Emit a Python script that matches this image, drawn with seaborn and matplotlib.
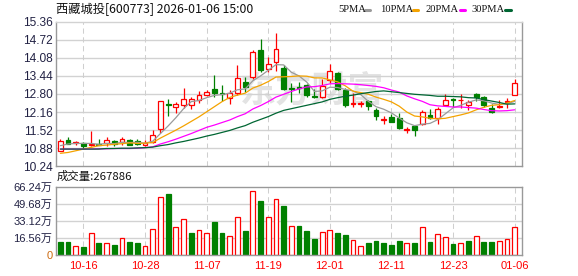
import numpy as np
import pandas as pd
import matplotlib
matplotlib.use("Agg")
import matplotlib.pyplot as plt
import seaborn as sns

# ---------------- data ----------------
title = "西藏城投[600773] 2026-01-06 15:00"
vol_label = "成交量:267886"
opens = [10.77, 11.17, 11.07, 11.05, 10.99, 11.03, 11.07, 11.13, 11.09, 11.16,
         11.12, 10.98, 11.10, 11.55, 12.43, 12.33, 12.42, 12.40, 12.59, 12.78,
         12.96, 12.83, 12.66, 12.85, 13.23, 13.40, 14.36, 13.67, 13.93, 13.73,
         13.00, 13.04, 13.12, 12.73, 12.68, 13.30, 13.54, 12.93, 12.45, 12.46,
         12.55, 12.25, 11.89, 11.99, 11.95, 11.53, 11.66, 11.75, 12.05, 11.96,
         12.40, 12.62, 12.58, 12.41, 12.81, 12.68, 12.31, 12.35, 12.53, 12.76]
highs = [11.22, 11.28, 11.15, 11.10, 11.49, 11.22, 11.28, 11.17, 11.27, 11.20,
         11.19, 11.17, 11.51, 12.56, 12.63, 12.52, 13.01, 12.68, 12.91, 12.93,
         13.46, 13.13, 12.95, 13.81, 13.40, 14.35, 14.76, 14.11, 14.96, 13.82,
         13.20, 13.23, 13.16, 12.99, 13.33, 13.86, 13.57, 13.02, 12.82, 12.55,
         12.60, 12.30, 12.02, 12.10, 12.12, 11.63, 11.65, 12.25, 12.26, 12.34,
         12.80, 12.65, 12.80, 12.60, 12.84, 12.72, 12.45, 12.58, 12.67, 13.34]
lows = [10.77, 11.02, 11.01, 10.87, 10.97, 10.98, 10.96, 10.96, 10.98, 10.98,
        10.98, 10.95, 11.08, 11.43, 12.01, 12.14, 12.30, 12.28, 12.49, 12.73,
        12.68, 12.54, 12.46, 12.78, 12.87, 13.34, 13.58, 13.58, 13.60, 12.93,
        12.52, 12.84, 12.70, 12.67, 12.66, 13.20, 12.93, 12.33, 12.33, 12.33,
        12.25, 11.88, 11.75, 11.81, 11.55, 11.43, 11.31, 11.71, 11.92, 11.75,
        12.40, 12.34, 12.32, 12.22, 12.55, 12.34, 12.14, 12.30, 12.30, 12.76]
closes = [11.15, 11.03, 11.10, 10.95, 11.03, 11.00, 11.17, 11.04, 11.19, 11.01,
          11.02, 11.05, 11.36, 12.54, 12.40, 12.45, 12.63, 12.61, 12.78, 12.87,
          12.85, 12.80, 12.85, 13.37, 13.05, 14.29, 13.64, 13.85, 14.38, 12.99,
          12.97, 13.01, 12.76, 12.71, 13.10, 13.60, 12.97, 12.40, 12.47, 12.48,
          12.39, 12.02, 11.92, 11.82, 11.59, 11.55, 11.52, 12.18, 11.95, 12.26,
          12.58, 12.59, 12.60, 12.50, 12.70, 12.42, 12.18, 12.37, 12.56, 13.19]
ma5 = [10.97, 11.03, 11.05, 11.05, 11.05, 11.02, 11.05, 11.04, 11.09, 11.08,
       11.09, 11.06, 11.13, 11.40, 11.67, 11.96, 12.28, 12.53, 12.57, 12.67,
       12.75, 12.78, 12.83, 12.95, 12.98, 13.27, 13.44, 13.64, 13.84, 13.83,
       13.57, 13.44, 13.22, 12.89, 12.91, 13.04, 13.03, 12.96, 12.91, 12.78,
       12.54, 12.35, 12.26, 12.13, 11.95, 11.78, 11.68, 11.73, 11.76, 11.89,
       12.10, 12.31, 12.40, 12.51, 12.59, 12.56, 12.48, 12.43, 12.45, 12.54]
ma10 = [10.70, 10.73, 10.79, 10.85, 10.91, 10.97, 10.99, 11.02, 11.04, 11.07,
        11.05, 11.06, 11.08, 11.24, 11.38, 11.52, 11.67, 11.83, 11.99, 12.17,
        12.35, 12.53, 12.68, 12.76, 12.83, 13.01, 13.11, 13.24, 13.40, 13.41,
        13.42, 13.44, 13.43, 13.37, 13.37, 13.30, 13.23, 13.09, 12.90, 12.85,
        12.79, 12.69, 12.61, 12.52, 12.37, 12.16, 12.02, 11.99, 11.94, 11.92,
        11.94, 12.00, 12.06, 12.13, 12.24, 12.33, 12.40, 12.42, 12.48, 12.57]
ma20 = [10.85, 10.85, 10.85, 10.85, 10.85, 10.86, 10.86, 10.87, 10.87, 10.87,
        10.88, 10.90, 10.93, 11.03, 11.11, 11.20, 11.30, 11.40, 11.51, 11.62,
        11.70, 11.79, 11.88, 12.00, 12.10, 12.27, 12.39, 12.53, 12.69, 12.79,
        12.89, 12.98, 13.05, 13.06, 13.10, 13.16, 13.17, 13.16, 13.15, 13.13,
        13.10, 13.07, 13.02, 12.94, 12.87, 12.73, 12.63, 12.54, 12.42, 12.38,
        12.36, 12.34, 12.34, 12.32, 12.30, 12.25, 12.21, 12.20, 12.21, 12.24]
ma30 = [10.85, 10.85, 10.85, 10.85, 10.85, 10.85, 10.87, 10.87, 10.88, 10.88,
        10.89, 10.90, 10.92, 10.97, 11.01, 11.07, 11.12, 11.18, 11.24, 11.31,
        11.37, 11.44, 11.51, 11.60, 11.68, 11.80, 11.90, 12.00, 12.12, 12.22,
        12.28, 12.34, 12.40, 12.46, 12.52, 12.61, 12.67, 12.72, 12.76, 12.81,
        12.85, 12.89, 12.91, 12.88, 12.85, 12.82, 12.79, 12.77, 12.75, 12.72,
        12.72, 12.71, 12.70, 12.67, 12.66, 12.60, 12.55, 12.50, 12.44, 12.45]
volumes = [12.6, 12.6, 8.4, 7.8, 21.0, 11.6, 11.6, 9.7, 16.2, 12.6,
           11.6, 8.4, 24.9, 55.9, 59.1, 26.8, 34.6, 21.3, 23.9, 21.0,
           32.0, 21.3, 18.1, 36.5, 23.3, 61.7, 52.3, 37.2, 54.0, 47.5,
           28.1, 28.1, 23.3, 15.5, 22.3, 23.9, 21.3, 19.4, 14.5, 8.4,
           11.6, 13.6, 11.6, 9.7, 13.6, 11.6, 11.6, 26.8, 12.6, 20.0,
           17.1, 10.7, 11.6, 13.6, 18.1, 12.6, 12.6, 13.6, 15.5, 26.79]
vol_dir = list("GGRGRGRGRG" "GRRRGRRGRR" "GGRRGRGRRG"
               "RGGGRRGGRR" "GGGGGRGRGR" "RGRGRGGRRR")
date_idx = [3, 11, 19, 27, 35, 43, 51, 59]
date_labels = ["10-16", "10-28", "11-07", "11-19", "12-01", "12-11", "12-23", "01-06"]
price_ticks = [10.24, 10.88, 11.52, 12.16, 12.80, 13.44, 14.08, 14.72, 15.36]
vol_ticks = [0, 16.56, 33.12, 49.68, 66.24]
vol_tick_labels = ["0", "16.56万", "33.12万", "49.68万", "66.24万"]
ma_names = ["5PMA", "10PMA", "20PMA", "30PMA"]

# ---------------- style ----------------
sns.set_style("white")
plt.rcParams["font.family"] = ["Liberation Sans", "Noto Sans CJK SC", "DejaVu Sans"]

RED = "#ff0000"
GREEN = "#008000"
ma_colors = ["#9a9a9a", "#f4a300", "#ff00ff", "#006633"]
GRID = "#d2d2d2"
FRAME = "#999999"
LABEL = "#222244"

W, H = 578, 276
fig = plt.figure(figsize=(W / 100, H / 100), dpi=100)


def rect(l, t, r, b):
    return [l / W, 1 - b / H, (r - l) / W, (b - t) / H]


ax = fig.add_axes(rect(55.5, 21.7, 522, 166.3))
axv = fig.add_axes(rect(55.5, 186.7, 522, 255))

df = pd.DataFrame({"i": np.arange(len(closes)), "open": opens, "high": highs,
                   "low": lows, "close": closes, "ma5": ma5, "ma10": ma10,
                   "ma20": ma20, "ma30": ma30, "vol": volumes, "dir": vol_dir})

# ---------------- price panel ----------------
for a in (ax, axv):
    for p in date_idx:
        a.axvline(p, color="#cfcfcf", lw=0.75, ls=(0, (5, 3.5)), zorder=0.5)

for t in price_ticks[1:-1]:
    ax.axhline(t, color=GRID, lw=1.0, zorder=0.4)

ax.text(0.55, 0.52, "东方财富", transform=ax.transAxes, fontsize=26,
        color="#e3e3e3", ha="center", va="center", fontweight="bold",
        family=["Noto Sans CJK SC"], zorder=0.3, style="italic")

up = df[df.close >= df.open]
dn = df[df.close < df.open]
bw = 0.62
# up candles: hollow red
body_lo = up[["open", "close"]].min(axis=1)
body_hi = up[["open", "close"]].max(axis=1)
ax.vlines(up.i, up.low, body_lo, color=RED, lw=0.9, zorder=2)
ax.vlines(up.i, body_hi, up.high, color=RED, lw=0.9, zorder=2)
ax.bar(up.i, np.maximum(body_hi - body_lo, 0.004), bottom=body_lo, width=bw,
       facecolor="white", edgecolor=RED, linewidth=0.9, zorder=2)
# down candles: filled green
ax.vlines(dn.i, dn.low, dn.high, color=GREEN, lw=0.9, zorder=2)
ax.bar(dn.i, np.maximum(dn.open - dn.close, 0.004), bottom=dn.close, width=bw,
       facecolor=GREEN, edgecolor=GREEN, linewidth=0.9, zorder=2.1)

for col, c in zip(["ma5", "ma10", "ma20", "ma30"], ma_colors):
    sns.lineplot(data=df, x="i", y=col, ax=ax, color=c, linewidth=0.9,
                 estimator=None, sort=False, zorder=3)

ax.set_xlim(-0.63, 59.95)
ax.set_ylim(price_ticks[0], price_ticks[-1])
ax.set_xticks([])
ax.set_yticks(price_ticks)
ax.set_yticklabels([f"{t:.2f}" for t in price_ticks])
ax.tick_params(axis="y", length=0, pad=2.2, labelsize=8.6, labelcolor=LABEL)
ax.set_xlabel("")
ax.set_ylabel("")
for s in ("left", "bottom", "right"):
    ax.spines[s].set_color(FRAME)
    ax.spines[s].set_linewidth(1.0)
ax.spines["top"].set_color(GRID)
ax.spines["top"].set_linewidth(1.0)

# ---------------- volume panel ----------------
for t in vol_ticks[1:-1]:
    axv.axhline(t, color=GRID, lw=1.0, zorder=0.4)
vu = df[df.dir == "R"]
vd = df[df.dir == "G"]
axv.bar(vu.i, vu.vol, width=bw, facecolor="white", edgecolor=RED,
        linewidth=0.9, zorder=2)
axv.bar(vd.i, vd.vol, width=bw, facecolor=GREEN, edgecolor=GREEN,
        linewidth=0.9, zorder=2)
axv.set_xlim(-0.63, 59.95)
axv.set_ylim(0, vol_ticks[-1])
axv.set_yticks(vol_ticks)
axv.set_yticklabels(vol_tick_labels)
axv.tick_params(axis="y", length=0, pad=2.2, labelsize=8, labelcolor=LABEL)
axv.get_yticklabels()[0].set_color("#cc6a10")
axv.set_xticks(date_idx)
axv.set_xticklabels(date_labels)
axv.tick_params(axis="x", length=0, pad=4.5, labelsize=8, labelcolor=RED)
for s in axv.spines.values():
    s.set_color(FRAME)
    s.set_linewidth(1.0)

# ---------------- texts ----------------
fig.text(56 / W, 1 - 9.5 / H, title, fontsize=8.8, color="#111111",
         va="center", ha="left", family=["Noto Sans CJK SC", "DejaVu Sans"])
fig.text(57 / W, 1 - 176.5 / H, vol_label, fontsize=8.2, color="#111111",
         va="center", ha="left", family=["Noto Sans CJK SC", "DejaVu Sans"])

leg_x = [338.7, 380.3, 425.7, 471.3]
dash_x = [364.7, 412.5, 459.7, 505.3]
for name, lx, dx, c in zip(ma_names, leg_x, dash_x, ma_colors):
    fig.text(lx / W, 1 - 9.5 / H, name, fontsize=7.6, color="#111111",
             va="center", ha="left", family=["Liberation Serif"])
    fig.add_artist(plt.Line2D([dx / W, (dx + 5.5) / W], [1 - 10 / H, 1 - 10 / H],
                              color=c, lw=2.2, transform=fig.transFigure))

fig.savefig("out.png", dpi=100)
